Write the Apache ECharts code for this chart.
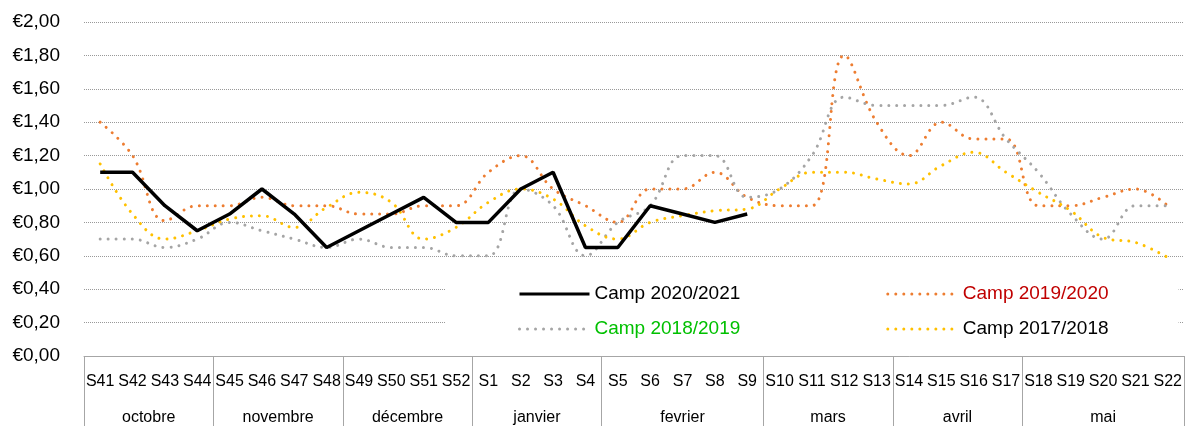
<!DOCTYPE html>
<html>
<head>
<meta charset="UTF-8">
<title>Prix hebdomadaire</title>
<style>
  html, body { margin: 0; padding: 0; background: #fff; }
  #chart { width: 1185px; height: 426px; }
</style>
</head>
<body>
<div id="chart"></div>
<script src="https://cdn.jsdelivr.net/npm/echarts@6/dist/echarts.min.js"></script>
<script>
// semaines (axe X)
var weeks = ['S41','S42','S43','S44','S45','S46','S47','S48','S49','S50','S51','S52',
  'S1','S2','S3','S4','S5','S6','S7','S8','S9','S10','S11','S12','S13',
  'S14','S15','S16','S17','S18','S19','S20','S21','S22'];
// mois et nombre de semaines par mois
var months = ['octobre','novembre','décembre','janvier','fevrier','mars','avril','mai'];
var monthWeeks = [4, 4, 4, 4, 5, 4, 4, 5];

var camp2021 = [1.10,1.10,0.90,0.75,0.85,1.00,0.85,0.65,0.75,0.85,0.95,0.80,
  0.80,1.00,1.10,0.65,0.65,0.90,0.85,0.80,0.85];
var camp2020 = [1.40,1.20,0.81,0.90,0.90,0.95,0.90,0.90,0.85,0.85,0.90,0.90,
  1.10,1.20,1.00,0.90,0.80,1.00,1.00,1.10,0.95,0.90,0.90,1.80,1.40,
  1.20,1.40,1.30,1.30,0.90,0.90,0.95,1.00,0.90];
var camp2019 = [0.70,0.70,0.65,0.70,0.80,0.75,0.70,0.65,0.70,0.65,0.65,0.60,
  0.60,1.00,0.90,0.60,0.80,0.90,1.20,1.20,0.95,1.00,1.20,1.55,1.50,
  1.50,1.50,1.55,1.30,1.10,0.85,0.70,0.90,0.90];
var camp2018 = [1.15,0.85,0.70,0.75,0.82,0.84,0.77,0.89,0.98,0.92,0.70,0.77,
  0.92,1.00,0.94,0.78,0.70,0.80,0.84,0.87,0.88,1.00,1.10,1.10,1.06,
  1.03,1.14,1.22,1.10,0.98,0.87,0.71,0.68,0.59];

var yTicks = { min: 0, max: 2, step: 0.2 };

// limites et centres des mois (en semaines)
var bounds = [0], centers = [];
for (var i = 0; i < monthWeeks.length; i++) {
  centers.push(bounds[i] + monthWeeks[i] / 2);
  bounds.push(bounds[i] + monthWeeks[i]);
}

var font = 'Liberation Sans';
var axisGrey = '#a6a6a6';

function legendRow(top, pad, items) {
  return {
    left: 445, top: top,
    padding: pad,
    backgroundColor: '#fff',
    itemWidth: 70, itemHeight: 20, itemGap: 146,
    itemStyle: { opacity: 0 },
    lineStyle: { width: 3 },
    textStyle: { fontSize: 19, fontFamily: font, lineHeight: 20 },
    data: items
  };
}

var chart = echarts.init(document.getElementById('chart'));
var option = {
  animation: false,
  textStyle: { fontFamily: font },
  grid: { left: 84, right: 0, top: 22, bottom: 70 },
  legend: [
    legendRow(278, [6, 70, 7, 73], [
      { name: 'Camp 2020/2021', textStyle: { color: '#000' } },
      { name: 'Camp 2019/2020', textStyle: { color: '#c00000' } }
    ]),
    legendRow(311, [8, 70, 6, 73], [
      { name: 'Camp 2018/2019', textStyle: { color: '#00c000' } },
      { name: 'Camp 2017/2018', textStyle: { color: '#000' } }
    ])
  ],
  xAxis: [{
    type: 'category',
    data: weeks,
    boundaryGap: true,
    axisLine: { show: true, lineStyle: { color: axisGrey, width: 1 } },
    axisTick: { show: false },
    axisLabel: { interval: 0, fontSize: 16, color: '#000', margin: 18 }
  }, {
    type: 'value',
    position: 'bottom',
    min: 0, max: weeks.length,
    axisLine: { show: false },
    splitLine: { show: false },
    axisTick: { show: true, customValues: bounds, length: 71, lineStyle: { color: axisGrey, width: 1 } },
    axisLabel: {
      customValues: centers, fontSize: 16, color: '#000', margin: 54,
      formatter: function (v) { return months[centers.indexOf(v)] || ''; }
    }
  }],
  yAxis: {
    type: 'value',
    min: yTicks.min, max: yTicks.max, interval: yTicks.step,
    axisLine: { show: false },
    axisTick: { show: false },
    axisLabel: {
      fontSize: 19, color: '#000', margin: 24,
      formatter: function (v) { return '€' + v.toFixed(2).replace('.', ','); }
    },
    splitLine: { show: true, lineStyle: { color: '#999', type: 'dotted', width: 1 } }
  },
  series: [{
    name: 'Camp 2020/2021', type: 'line', data: camp2021,
    symbol: 'none', smooth: false, z: 5,
    lineStyle: { color: '#000', width: 3.5 },
    itemStyle: { color: '#000' }
  }, {
    name: 'Camp 2019/2020', type: 'line', data: camp2020,
    symbol: 'none', smooth: 0.4,
    lineStyle: { color: '#ed7d31', width: 3, type: [0.01, 8], cap: 'round' },
    itemStyle: { color: '#ed7d31' }
  }, {
    name: 'Camp 2018/2019', type: 'line', data: camp2019,
    symbol: 'none', smooth: 0.4,
    lineStyle: { color: '#a5a5a5', width: 3, type: [0.01, 8], cap: 'round' },
    itemStyle: { color: '#a5a5a5' }
  }, {
    name: 'Camp 2017/2018', type: 'line', data: camp2018,
    symbol: 'none', smooth: 0.4,
    lineStyle: { color: '#ffc000', width: 3, type: [0.01, 8], cap: 'round' },
    itemStyle: { color: '#ffc000' }
  }]
};
chart.setOption(option);
</script>
</body>
</html>
